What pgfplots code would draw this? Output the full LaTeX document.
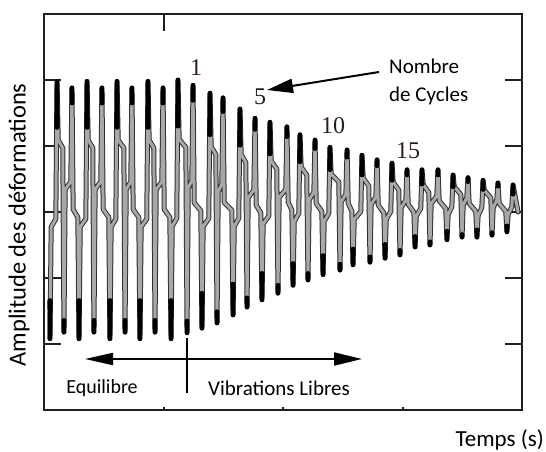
\documentclass[border=0pt]{standalone}
\usepackage{pgfplots}
\usepackage{pgfplotstable}
\pgfplotsset{compat=1.18}
\usepackage{fontspec}
\setmainfont{Carlito}
\newfontfamily\numfont{Liberation Serif}
\usetikzlibrary{arrows.meta}
\definecolor{sig}{HTML}{A8A8A8}
\definecolor{numc}{RGB}{45,25,40}
% strain signal: extrema and the kinks between them
\pgfplotstableread{
t v
0.050 -1.92
0.060 -0.225
0.099 -0.105
0.109 1.98
0.119 1.09
0.157 0.97
0.167 -1.82
0.177 0.34
0.224 0.46
0.234 1.88
0.244 0.04
0.283 -0.08
0.293 -1.92
0.303 -0.225
0.350 -0.105
0.360 1.98
0.370 1.09
0.408 0.97
0.418 -1.82
0.428 0.34
0.475 0.46
0.485 1.88
0.495 0.04
0.542 -0.08
0.552 -1.92
0.562 -0.225
0.601 -0.105
0.611 1.98
0.621 1.09
0.668 0.97
0.678 -1.82
0.688 0.34
0.726 0.46
0.736 1.88
0.746 0.04
0.793 -0.08
0.803 -1.92
0.813 -0.225
0.860 -0.105
0.870 1.98
0.880 1.09
0.919 0.97
0.929 -1.82
0.939 0.34
0.986 0.46
0.996 1.88
1.006 0.04
1.053 -0.08
1.063 -1.92
1.073 -0.216
1.111 -0.096
1.121 2.00
1.131 1.10
1.187 0.98
1.197 -1.83
1.207 0.36
1.237 0.48
1.247 1.92
1.257 0.14
1.312 0.02
1.322 -1.76
1.332 -0.218
1.379 -0.098
1.389 1.80
1.399 0.99
1.438 0.87
1.448 -1.68
1.458 0.306
1.488 0.426
1.498 1.73
1.508 0.145
1.572 0.025
1.582 -1.56
1.592 -0.216
1.630 -0.096
1.640 1.56
1.650 0.87
1.689 0.75
1.699 -1.44
1.709 0.216
1.756 0.336
1.766 1.42
1.776 0.105
1.814 -0.015
1.824 -1.33
1.834 -0.18
1.881 -0.06
1.891 1.36
1.901 0.772
1.948 0.652
1.958 -1.23
1.968 0.222
2.023 0.342
2.033 1.29
2.043 0.15
2.074 0.03
2.084 -1.11
2.094 -0.144
2.132 -0.024
2.142 1.17
2.152 0.68
2.199 0.56
2.209 -1.03
2.219 0.182
2.258 0.302
2.268 1.09
2.278 0.13
2.325 0.01
2.335 -0.95
2.345 -0.141
2.383 -0.021
2.393 0.98
2.403 0.575
2.467 0.455
2.477 -0.88
2.487 0.152
2.526 0.272
2.536 0.94
2.546 0.13
2.576 0.01
2.586 -0.80
2.596 -0.113
2.651 0.007
2.661 0.86
2.671 0.515
2.718 0.395
2.728 -0.76
2.738 0.11
2.777 0.23
2.787 0.79
2.797 0.105
2.844 -0.015
2.854 -0.70
2.864 -0.112
2.902 0.008
2.912 0.74
2.922 0.452
2.969 0.332
2.979 -0.65
2.989 0.064
3.028 0.184
3.038 0.64
3.048 0.115
3.095 -0.005
3.105 -0.53
3.115 -0.063
3.153 0.057
3.163 0.64
3.173 0.415
3.220 0.295
3.230 -0.50
3.240 0.124
3.287 0.244
3.297 0.64
3.307 0.17
3.362 0.05
3.372 -0.42
3.382 -0.039
3.413 0.081
3.423 0.56
3.433 0.385
3.488 0.265
3.498 -0.38
3.508 0.10
3.538 0.22
3.548 0.52
3.558 0.13
3.613 0.01
3.623 -0.38
3.633 -0.053
3.664 0.067
3.674 0.48
3.684 0.333
3.739 0.213
3.749 -0.35
3.759 0.064
3.789 0.184
3.799 0.44
3.809 0.13
3.864 0.01
3.874 -0.30
3.884 -0.04
3.915 0.08
3.925 0.41
3.967 0.0
}\sigdata
\begin{document}
\begin{tikzpicture}
\useasboundingbox (0,0) rectangle (546pt,452pt);
\begin{axis}[
  at={(44pt,42pt)}, anchor=south west,
  scale only axis, width=478pt, height=396pt,
  xmin=0, xmax=4, ymin=-3, ymax=3,
  xtick=\empty, ytick={-2,-1,0,1,2}, yticklabels={},
  ytick pos=both, tick align=inside, major tick length=17pt,
  axis line style={line width=2.2pt, draw=black!88},
  ytick style={line width=2pt, draw=black!88},
  unbounded coords=jump, clip=true,
  every axis plot/.append style={line join=round, line cap=round},
]
% tube: dark outline, then gray body
\addplot[draw=black!82, line width=5pt] table[x=t,y=v] {\sigdata};
\addplot[draw=sig, line width=3pt] table[x=t,y=v] {\sigdata};
% solid black tips at the extremes
\addplot[draw=black, line width=4.4pt] coordinates {
(0.106,1.28)(0.109,1.98)(0.112,1.28) (nan,nan)
(0.357,1.28)(0.360,1.98)(0.363,1.28) (nan,nan)
(0.608,1.28)(0.611,1.98)(0.614,1.28) (nan,nan)
(0.867,1.28)(0.870,1.98)(0.873,1.28) (nan,nan)
(1.118,1.30)(1.121,2.00)(1.124,1.30) (nan,nan)
(1.386,1.17)(1.389,1.80)(1.392,1.17) (nan,nan)
(1.637,1.01)(1.640,1.56)(1.643,1.01) (nan,nan)
(1.888,0.88)(1.891,1.36)(1.894,0.88) (nan,nan)
(2.139,0.76)(2.142,1.17)(2.145,0.76) (nan,nan)
(2.390,0.64)(2.393,0.98)(2.396,0.64) (nan,nan)
(2.658,0.56)(2.661,0.86)(2.664,0.56) (nan,nan)
(2.909,0.48)(2.912,0.74)(2.915,0.48) (nan,nan)
(3.160,0.42)(3.163,0.64)(3.166,0.42) (nan,nan)
(3.420,0.38)(3.423,0.56)(3.426,0.38) (nan,nan)
(3.671,0.34)(3.674,0.48)(3.677,0.34) (nan,nan)
(3.922,0.27)(3.925,0.41)(3.928,0.27) (nan,nan)
(0.232,1.65)(0.234,1.88)(0.236,1.65) (nan,nan)
(0.483,1.65)(0.485,1.88)(0.487,1.65) (nan,nan)
(0.734,1.65)(0.736,1.88)(0.738,1.65) (nan,nan)
(0.994,1.65)(0.996,1.88)(0.998,1.65) (nan,nan)
(1.245,1.69)(1.247,1.92)(1.249,1.69) (nan,nan)
(1.496,1.52)(1.498,1.73)(1.500,1.52) (nan,nan)
(1.764,1.25)(1.766,1.42)(1.768,1.25) (nan,nan)
(2.031,1.14)(2.033,1.29)(2.035,1.14) (nan,nan)
(2.266,0.96)(2.268,1.09)(2.270,0.96) (nan,nan)
(2.534,0.83)(2.536,0.94)(2.538,0.83) (nan,nan)
(2.785,0.70)(2.787,0.79)(2.789,0.70) (nan,nan)
(3.036,0.56)(3.038,0.64)(3.040,0.56) (nan,nan)
(3.295,0.56)(3.297,0.64)(3.299,0.56) (nan,nan)
(3.546,0.46)(3.548,0.52)(3.550,0.46) (nan,nan)
(3.797,0.39)(3.799,0.44)(3.801,0.39) (nan,nan)
(0.047,-1.34)(0.050,-1.92)(0.053,-1.34) (nan,nan)
(0.290,-1.34)(0.293,-1.92)(0.296,-1.34) (nan,nan)
(0.549,-1.34)(0.552,-1.92)(0.555,-1.34) (nan,nan)
(0.800,-1.34)(0.803,-1.92)(0.806,-1.34) (nan,nan)
(1.060,-1.34)(1.063,-1.92)(1.066,-1.34) (nan,nan)
(1.319,-1.23)(1.322,-1.76)(1.325,-1.23) (nan,nan)
(1.579,-1.09)(1.582,-1.56)(1.585,-1.09) (nan,nan)
(1.821,-0.93)(1.824,-1.33)(1.827,-0.93) (nan,nan)
(2.081,-0.78)(2.084,-1.11)(2.087,-0.78) (nan,nan)
(2.332,-0.66)(2.335,-0.95)(2.338,-0.66) (nan,nan)
(2.583,-0.56)(2.586,-0.80)(2.589,-0.56) (nan,nan)
(2.851,-0.49)(2.854,-0.70)(2.857,-0.49) (nan,nan)
(3.102,-0.37)(3.105,-0.53)(3.108,-0.37) (nan,nan)
(3.369,-0.29)(3.372,-0.42)(3.375,-0.29) (nan,nan)
(3.620,-0.27)(3.623,-0.38)(3.626,-0.27) (nan,nan)
(3.871,-0.21)(3.874,-0.30)(3.877,-0.21) (nan,nan)
(0.165,-1.64)(0.167,-1.82)(0.169,-1.64) (nan,nan)
(0.416,-1.64)(0.418,-1.82)(0.420,-1.64) (nan,nan)
(0.676,-1.64)(0.678,-1.82)(0.680,-1.64) (nan,nan)
(0.927,-1.64)(0.929,-1.82)(0.931,-1.64) (nan,nan)
(1.195,-1.65)(1.197,-1.83)(1.199,-1.65) (nan,nan)
(1.446,-1.51)(1.448,-1.68)(1.450,-1.51) (nan,nan)
(1.697,-1.30)(1.699,-1.44)(1.701,-1.30) (nan,nan)
(1.956,-1.11)(1.958,-1.23)(1.960,-1.11) (nan,nan)
(2.207,-0.93)(2.209,-1.03)(2.211,-0.93) (nan,nan)
(2.475,-0.79)(2.477,-0.88)(2.479,-0.79) (nan,nan)
(2.726,-0.68)(2.728,-0.76)(2.730,-0.68) (nan,nan)
(2.977,-0.58)(2.979,-0.65)(2.981,-0.58) (nan,nan)
(3.228,-0.45)(3.230,-0.50)(3.232,-0.45) (nan,nan)
(3.496,-0.34)(3.498,-0.38)(3.500,-0.34) (nan,nan)
(3.747,-0.31)(3.749,-0.35)(3.751,-0.31)
};
% x ticks
\draw[line width=2pt, black!88] (axis cs:1,3) -- ++(0pt,-17pt);
\draw[line width=2pt, black!88] (axis cs:1,-3) -- ++(0pt,3pt);
\draw[line width=2pt, black!88] (axis cs:2,-3) -- ++(0pt,3pt);
\draw[line width=2pt, black!88] (axis cs:3,-3) -- ++(0pt,3pt);
\end{axis}
\begin{scope}[shift={(0pt,452pt)}, x=1pt, y=-1pt]
  % equilibrium / free vibrations arrows
  \draw[line width=2pt, -{Triangle[length=28pt,width=12pt]}] (187,359) -- (85,359);
  \draw[line width=2pt, -{Triangle[length=28pt,width=13pt]}] (187,359) -- (362,359);
  \draw[line width=2pt] (187,338) -- (187,393);
  \node[font=\fontsize{20}{22}\selectfont, inner sep=0pt] at (102,388) {Equilibre};
  \node[font=\fontsize{21}{24}\selectfont, inner sep=0pt] at (279,388) {Vibrations Libres};
  % cycle numbers
  \node[font=\numfont\fontsize{24}{26}\selectfont, text=numc, inner sep=0pt] at (196,68) {1};
  \node[font=\numfont\fontsize{24}{26}\selectfont, text=numc, inner sep=0pt] at (260,97) {5};
  \node[font=\numfont\fontsize{24}{26}\selectfont, text=numc, inner sep=0pt] at (333,126) {10};
  \node[font=\numfont\fontsize{24}{26}\selectfont, text=numc, inner sep=0pt] at (408,151) {15};
  % Nombre de Cycles
  \node[font=\fontsize{21}{24}\selectfont, anchor=west, inner sep=0pt] at (389,66) {Nombre};
  \node[font=\fontsize{21}{24}\selectfont, anchor=west, inner sep=0pt] at (389,96) {de Cycles};
  \draw[line width=2pt, -{Triangle[length=26pt,width=14pt]}] (379,72) -- (267,90);
  % axis labels
  \node[font=\fontsize{24.5}{27}\selectfont, rotate=90, inner sep=0pt] at (19,225) {Amplitude des déformations};
  \node[font=\fontsize{23}{26}\selectfont, anchor=east, inner sep=0pt] at (544,440) {Temps (s)};
\end{scope}
\end{tikzpicture}
\end{document}
